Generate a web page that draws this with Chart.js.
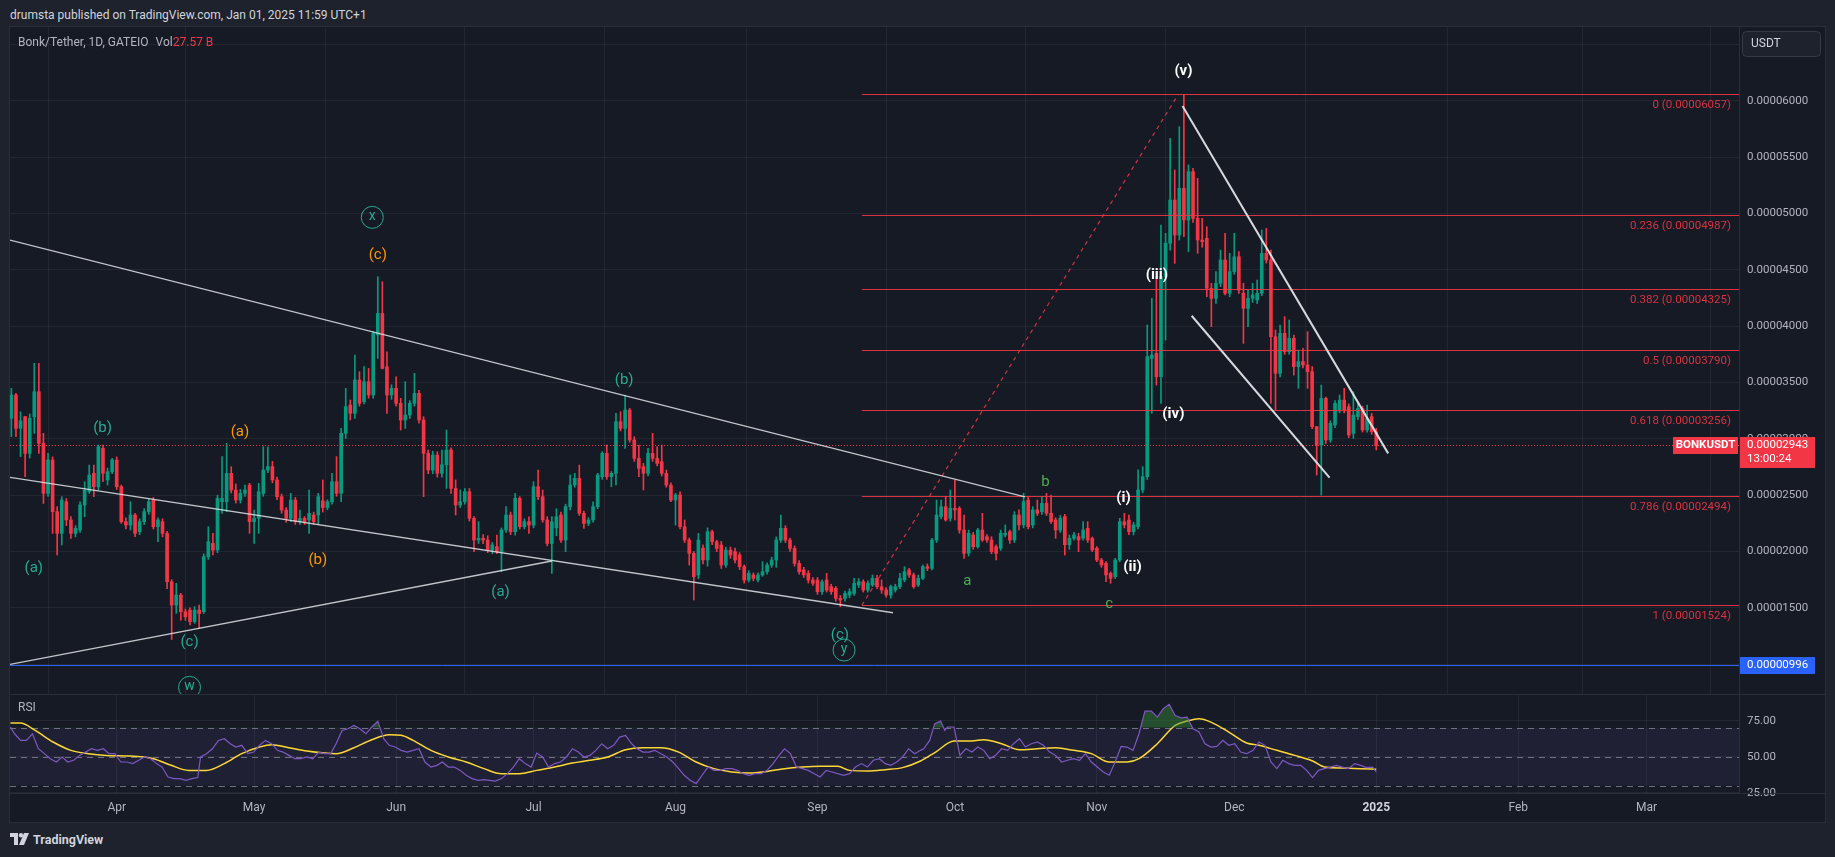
<!DOCTYPE html>
<html>
<head>
<meta charset="utf-8">
<title>BONKUSDT 1D</title>
<script src="https://cdn.jsdelivr.net/npm/chart.js@4.4.1/dist/chart.umd.min.js"></script>
<style>
  html, body { margin: 0; padding: 0; }
  body { width: 1835px; height: 857px; background: #1e222d; position: relative; overflow: hidden; font-family: Roboto, sans-serif; }
  #hdr { position: absolute; left: 10px; top: 7px; font-size: 12px; line-height: 16px; color: #d1d4dc; white-space: nowrap; }
  .wrap { position: absolute; left: 10px; width: 1815px; }
  #mainWrap { top: 27px; height: 667px; }
  #rsiWrap { top: 694px; height: 128px; }
  .sep { position: absolute; background: #2a2e39; }
  #frame { position: absolute; left: 9px; top: 26px; width: 1817px; height: 797px; border: 1px solid #2a2e39; box-sizing: border-box; pointer-events: none; }
  #logo { position: absolute; left: 10px; top: 831px; height: 16px; display: flex; align-items: center; gap: 4px; color: #d1d4dc; font-weight: bold; font-size: 12.5px; }
</style>
</head>
<body>
<div id="hdr">drumsta published on TradingView.com, Jan 01, 2025 11:59 UTC+1</div>
<div id="mainWrap" class="wrap"><canvas id="mainCanvas"></canvas></div>
<div id="rsiWrap" class="wrap"><canvas id="rsiCanvas"></canvas></div>
<div class="sep" style="left:10px; top:694px; width:1815px; height:1px;"></div>
<div class="sep" style="left:10px; top:793px; width:1815px; height:1px;"></div>
<div id="frame"></div>
<div id="logo">
  <svg width="19" height="13" viewBox="0 0 19 13"><path d="M0 0h8v12H4V4H0z" fill="#d1d4dc"/><circle cx="11" cy="2.2" r="2.2" fill="#d1d4dc"/><path d="M14 0h5l-5 12H9z" fill="#d1d4dc"/></svg>
  <span>TradingView</span>
</div>

<script>
// prices are in millionths of USDT (29.43 -> 0.00002943)
// days are counted from Apr 1 2024, first candle is Mar 9 2024
const firstDay = -23;

const open = [
  31.82, 33.89, 30.93, 31.97, 28.71, 31.97, 34.18, 29.60, 25.16, 28.12,
  23.54, 21.61, 24.42, 22.80, 21.61, 21.91, 24.13, 25.31, 26.94, 25.75,
  29.16, 26.35, 27.08, 28.12, 25.75, 22.65, 22.35, 23.24, 21.76, 22.65,
  23.54, 24.57, 22.20, 22.65, 21.61, 17.32, 15.25, 16.14, 14.66, 14.81,
  13.78, 14.81, 14.66, 19.54, 20.72, 20.13, 24.42, 24.42, 26.94, 25.46,
  24.57, 25.16, 25.90, 22.65, 22.94, 25.16, 27.23, 27.53, 26.35, 24.87,
  23.68, 22.94, 24.57, 22.65, 22.94, 22.80, 23.24, 23.24, 24.50, 23.90,
  24.42, 26.20, 25.16, 30.49, 33.00, 32.26, 35.22, 33.30, 35.07, 33.89,
  39.21, 41.13, 36.40, 33.89, 34.48, 33.15, 31.67, 32.11, 33.15, 34.04,
  31.67, 28.71, 27.23, 28.56, 26.94, 27.70, 29.01, 25.60, 24.13, 24.42,
  25.31, 22.94, 21.02, 21.17, 21.02, 20.13, 20.43, 19.99, 21.91, 23.24,
  21.76, 24.72, 22.20, 22.65, 22.35, 25.75, 24.87, 22.80, 20.72, 22.10,
  23.24, 21.02, 23.98, 25.90, 26.49, 23.39, 22.50, 22.80, 23.98, 26.64,
  28.71, 26.64, 26.94, 31.52, 30.93, 32.56, 29.90, 28.27, 27.53, 26.94,
  28.71, 28.27, 27.97, 26.94, 25.90, 24.57, 25.02, 22.20, 21.02, 19.84,
  17.92, 20.30, 19.25, 21.76, 20.87, 20.58, 18.80, 20.13, 19.99, 19.69,
  18.65, 17.47, 17.92, 17.47, 17.92, 18.21, 18.80, 19.25, 21.02, 22.06,
  21.02, 20.28, 18.95, 18.36, 18.06, 17.47, 17.47, 16.44, 17.47, 16.88,
  16.73, 15.84, 15.84, 16.14, 16.29, 17.03, 17.32, 16.58, 17.03, 17.62,
  16.88, 16.59, 16.14, 16.59, 16.88, 17.48, 18.36, 17.92, 17.03, 17.62,
  18.66, 18.51, 21.02, 23.10, 23.98, 22.95, 23.83, 23.83, 21.91, 19.84,
  21.47, 20.43, 21.91, 21.32, 21.02, 20.43, 20.29, 21.47, 21.76, 21.02,
  23.24, 22.36, 24.57, 22.36, 23.69, 23.54, 24.28, 23.39, 22.80, 21.91,
  23.10, 20.60, 21.17, 21.32, 21.17, 22.06, 21.17, 20.29, 19.25, 18.96,
  18.07, 17.77, 19.25, 22.65, 22.80, 21.76, 22.21, 25.46, 26.64, 37.14,
  37.58, 35.51, 44.39, 47.35, 51.19, 48.08, 52.23, 49.42, 53.70, 49.56,
  47.64, 47.79, 43.35, 42.46, 43.80, 45.87, 42.91, 44.83, 46.16, 42.91,
  41.58, 42.46, 42.32, 42.91, 46.46, 45.87, 39.06, 35.81, 39.36, 37.73,
  38.92, 36.40, 36.85, 36.55, 35.96, 31.08, 29.45, 33.59, 29.90, 31.23,
  32.56, 33.44, 32.85, 30.49, 31.97, 32.70, 30.78, 31.97, 30.63
];
const high = [
  34.48, 34.04, 32.40, 32.00, 32.20, 36.70, 36.70, 30.49, 28.71, 28.40,
  23.98, 24.87, 24.70, 23.10, 22.30, 24.40, 26.20, 27.67, 27.67, 29.45,
  29.45, 27.40, 28.27, 28.40, 25.90, 23.00, 24.42, 23.39, 22.90, 23.80,
  24.72, 24.80, 23.00, 22.90, 21.80, 17.50, 17.18, 16.30, 14.90, 15.00,
  15.11, 15.25, 19.80, 22.20, 21.61, 25.00, 28.42, 29.60, 27.53, 26.00,
  25.50, 25.90, 26.05, 23.68, 26.05, 29.30, 29.30, 28.00, 26.60, 25.10,
  23.90, 25.16, 24.80, 23.68, 23.10, 25.46, 23.50, 25.16, 26.35, 24.60,
  26.94, 28.42, 30.93, 34.48, 33.44, 37.44, 35.96, 36.40, 36.25, 39.51,
  44.39, 43.94, 37.73, 34.80, 35.51, 33.59, 35.07, 33.40, 35.81, 34.30,
  31.97, 29.00, 28.90, 28.86, 29.00, 30.78, 29.20, 26.35, 25.46, 25.60,
  25.60, 23.10, 22.65, 21.50, 21.40, 20.80, 21.46, 22.10, 23.98, 23.50,
  25.16, 24.87, 22.90, 23.09, 26.20, 27.23, 25.46, 23.10, 23.09, 23.80,
  23.50, 24.20, 26.79, 26.94, 27.67, 23.60, 23.00, 24.42, 26.94, 28.86,
  29.45, 27.10, 32.26, 32.41, 33.89, 32.71, 30.19, 29.45, 27.82, 29.16,
  30.49, 29.30, 29.45, 27.23, 26.10, 25.16, 25.30, 22.80, 21.20, 20.00,
  21.61, 20.60, 22.10, 21.90, 21.00, 20.90, 20.40, 20.40, 20.30, 19.90,
  18.80, 18.30, 18.10, 18.10, 19.10, 19.00, 19.50, 21.30, 23.24, 22.30,
  21.20, 20.50, 19.20, 18.60, 18.30, 17.70, 17.70, 17.50, 18.06, 17.10,
  16.90, 16.10, 16.50, 16.70, 17.62, 17.60, 17.50, 17.40, 17.92, 17.90,
  17.48, 16.80, 17.03, 17.10, 18.07, 18.66, 18.51, 18.10, 17.92, 18.81,
  18.90, 21.17, 24.57, 24.57, 24.87, 25.46, 26.35, 23.98, 23.24, 21.91,
  21.70, 22.06, 23.39, 21.50, 21.32, 20.60, 21.91, 22.36, 21.91, 23.54,
  23.69, 25.17, 24.87, 23.98, 24.57, 24.87, 25.17, 25.02, 23.00, 23.20,
  23.30, 21.47, 21.70, 21.62, 22.65, 22.65, 21.30, 20.43, 19.40, 19.10,
  18.20, 19.40, 22.95, 23.39, 23.24, 22.60, 27.24, 27.53, 40.10, 42.46,
  44.39, 48.97, 48.23, 56.66, 53.85, 57.70, 60.57, 54.30, 54.00, 53.11,
  49.56, 48.82, 43.80, 44.83, 46.75, 48.23, 46.46, 48.23, 46.61, 43.80,
  43.20, 43.80, 44.09, 48.53, 48.67, 46.75, 39.66, 40.10, 40.84, 40.54,
  39.20, 37.88, 38.03, 39.51, 36.40, 31.10, 34.77, 33.70, 31.60, 33.40,
  33.89, 34.48, 33.10, 34.18, 33.15, 32.90, 33.00, 32.26, 30.93
];
const low = [
  30.19, 30.19, 28.42, 26.64, 28.30, 30.49, 28.71, 24.27, 24.90, 21.61,
  19.69, 20.58, 22.30, 21.17, 21.30, 21.70, 23.09, 25.16, 24.87, 25.46,
  26.20, 25.90, 26.90, 25.50, 22.50, 22.00, 21.91, 21.32, 21.50, 22.40,
  23.30, 22.00, 20.87, 21.30, 16.70, 12.20, 14.52, 13.92, 13.90, 13.50,
  13.63, 13.18, 14.50, 19.30, 19.69, 19.90, 23.39, 23.54, 25.20, 24.30,
  24.30, 24.90, 21.61, 20.72, 21.61, 24.90, 27.00, 26.10, 24.60, 23.40,
  22.60, 22.65, 22.40, 22.40, 22.40, 21.61, 22.40, 22.40, 23.50, 23.70,
  24.20, 24.90, 24.42, 30.04, 31.67, 31.82, 32.90, 33.10, 33.60, 33.60,
  37.14, 36.20, 32.26, 33.50, 32.90, 30.78, 30.93, 31.80, 32.90, 31.40,
  24.87, 26.90, 26.90, 26.60, 26.60, 25.60, 25.16, 23.24, 23.90, 24.20,
  22.70, 19.99, 20.72, 20.70, 19.90, 19.80, 19.80, 18.21, 21.70, 21.50,
  21.46, 22.00, 22.00, 21.61, 22.10, 24.60, 22.60, 20.50, 18.06, 21.40,
  20.80, 19.99, 23.70, 25.70, 23.20, 22.06, 22.30, 22.60, 23.80, 26.40,
  26.40, 25.75, 25.90, 30.70, 29.16, 29.70, 28.00, 26.64, 25.46, 26.70,
  28.00, 27.60, 26.70, 25.70, 24.42, 22.35, 22.00, 20.80, 18.80, 15.70,
  17.60, 18.90, 18.70, 20.60, 20.00, 18.50, 18.60, 19.40, 19.00, 18.40,
  17.20, 17.30, 17.40, 17.30, 17.80, 18.00, 18.60, 18.60, 20.80, 20.80,
  20.00, 18.70, 18.00, 17.70, 17.20, 17.00, 16.20, 16.20, 16.40, 16.20,
  15.60, 15.11, 15.60, 15.90, 16.10, 16.80, 16.40, 16.40, 16.90, 16.70,
  16.29, 15.95, 15.85, 16.40, 16.70, 17.30, 17.70, 16.74, 16.90, 17.50,
  18.30, 18.36, 20.80, 22.90, 22.70, 22.70, 22.80, 21.62, 19.40, 19.60,
  20.20, 20.30, 20.90, 20.80, 19.80, 19.25, 20.10, 21.30, 20.73, 20.80,
  21.91, 22.10, 22.00, 22.10, 23.20, 23.30, 23.20, 22.50, 21.17, 21.70,
  19.69, 20.20, 21.00, 19.99, 21.00, 20.80, 19.99, 19.10, 18.60, 17.33,
  17.18, 17.60, 19.10, 22.10, 21.50, 21.47, 22.00, 25.20, 26.40, 32.26,
  34.77, 33.15, 38.77, 46.75, 45.57, 47.64, 47.94, 46.61, 49.20, 46.46,
  47.00, 42.61, 39.95, 42.02, 43.50, 42.76, 42.60, 44.60, 42.90, 38.47,
  39.95, 42.10, 42.00, 42.70, 45.60, 33.15, 32.56, 35.50, 37.50, 37.50,
  35.66, 34.48, 36.30, 34.48, 30.90, 26.79, 25.01, 29.60, 29.70, 31.00,
  32.30, 32.30, 30.10, 30.04, 31.70, 30.60, 30.60, 30.40, 29.01
];
const close = [
  33.89, 30.93, 31.60, 28.71, 31.82, 34.18, 29.60, 25.16, 28.12, 23.54,
  21.61, 24.57, 22.80, 21.61, 22.06, 24.13, 25.46, 26.79, 25.75, 29.30,
  26.94, 27.08, 28.12, 25.75, 22.65, 22.35, 23.24, 21.61, 22.65, 23.54,
  24.42, 22.20, 22.80, 21.61, 17.32, 15.25, 16.14, 14.66, 14.22, 13.78,
  14.81, 14.50, 19.54, 20.87, 20.13, 24.72, 24.72, 26.94, 25.46, 24.57,
  25.16, 25.46, 22.65, 22.94, 25.31, 27.23, 27.53, 26.35, 24.87, 23.68,
  22.94, 24.57, 22.65, 22.94, 22.65, 23.39, 22.65, 24.87, 23.90, 24.42,
  26.20, 25.16, 30.49, 32.85, 32.26, 35.22, 33.15, 35.07, 33.89, 39.36,
  41.13, 36.25, 33.89, 34.48, 33.15, 31.67, 32.11, 33.15, 34.04, 31.67,
  28.71, 27.23, 28.56, 26.94, 27.70, 29.01, 25.60, 24.13, 24.42, 25.31,
  22.94, 21.02, 21.17, 21.02, 20.13, 20.58, 19.99, 21.91, 23.24, 21.76,
  24.72, 22.20, 22.65, 22.35, 25.75, 24.87, 22.80, 20.72, 22.65, 23.09,
  21.02, 23.98, 25.90, 26.49, 23.39, 22.50, 22.80, 23.98, 26.79, 28.71,
  26.64, 26.94, 31.52, 30.93, 32.56, 29.90, 28.27, 27.38, 26.94, 28.71,
  28.27, 27.82, 26.94, 25.90, 24.57, 25.02, 22.20, 21.02, 19.84, 17.77,
  21.02, 19.25, 21.76, 20.87, 20.28, 18.80, 20.13, 19.69, 19.25, 18.65,
  17.47, 18.06, 17.62, 17.92, 18.21, 18.80, 19.25, 21.02, 22.06, 21.02,
  20.28, 18.95, 18.21, 17.92, 17.47, 17.18, 16.44, 17.32, 16.58, 16.44,
  15.84, 15.70, 16.29, 16.44, 17.18, 17.32, 16.58, 17.18, 17.62, 16.88,
  16.59, 16.14, 16.88, 16.88, 17.62, 18.21, 17.92, 16.88, 17.62, 18.66,
  18.51, 21.02, 23.24, 23.98, 22.80, 23.83, 23.69, 21.91, 19.84, 21.62,
  20.43, 21.91, 21.02, 21.02, 19.99, 19.84, 21.62, 21.62, 21.02, 23.24,
  22.36, 24.43, 22.21, 23.69, 23.39, 24.28, 23.39, 22.65, 21.91, 22.95,
  20.60, 21.17, 21.47, 21.02, 21.91, 21.02, 20.14, 19.25, 18.81, 17.92,
  17.62, 19.25, 22.65, 22.36, 21.76, 22.36, 25.46, 26.64, 37.29, 37.44,
  35.51, 44.39, 47.35, 51.19, 48.08, 52.23, 49.42, 53.70, 49.56, 47.64,
  47.49, 43.35, 42.46, 43.80, 45.87, 42.91, 44.83, 46.16, 43.20, 41.58,
  42.46, 42.76, 42.91, 46.46, 45.87, 39.06, 35.81, 39.36, 37.73, 38.92,
  36.40, 36.85, 36.55, 35.96, 31.08, 29.45, 33.59, 29.90, 31.37, 33.15,
  33.44, 32.56, 30.34, 32.11, 32.70, 30.78, 31.82, 30.63, 29.43
];

const rsiDay = [
  -23.2, -22.3, -21.0, -19.7, -18.4, -17.1, -15.8, -14.5, -13.2, -11.9,
  -10.7, -9.4, -8.1, -6.8, -5.5, -4.2, -2.9, -1.7, -0.4, 0.9,
  2.2, 3.5, 4.8, 6.1, 7.4, 8.7, 9.9, 11.2, 12.5, 13.8,
  15.1, 16.4, 17.7, 18.3, 19.6, 20.9, 22.2, 23.5, 24.8, 26.0,
  27.3, 28.6, 29.9, 31.2, 32.5, 33.8, 35.1, 36.3, 37.6, 38.9,
  40.2, 41.5, 42.8, 44.1, 45.4, 46.7, 47.9, 49.2, 50.5, 51.8,
  53.1, 54.4, 55.7, 57.0, 58.3, 59.5, 60.8, 62.1, 63.4, 64.7,
  66.0, 67.3, 68.6, 69.9, 71.1, 72.4, 73.7, 75.0, 76.3, 77.6,
  78.9, 80.2, 81.4, 82.7, 84.0, 85.3, 86.6, 87.9, 89.2, 90.5,
  91.7, 93.0, 94.3, 95.6, 96.9, 98.2, 99.5, 100.8, 102.0, 103.3,
  104.6, 105.9, 107.2, 108.5, 109.8, 111.1, 112.4, 113.6, 114.9, 116.2,
  117.5, 118.8, 120.1, 121.4, 122.7, 123.9, 125.2, 126.5, 127.8, 129.1,
  130.4, 131.7, 133.0, 134.3, 135.5, 136.8, 138.1, 139.4, 140.7, 142.0,
  143.3, 144.6, 145.8, 147.1, 148.4, 149.7, 151.0, 152.3, 153.6, 154.9,
  156.2, 157.4, 158.7, 160.0, 161.3, 162.6, 163.9, 165.2, 166.5, 167.8,
  169.0, 170.3, 171.6, 172.9, 174.2, 175.5,
  176.2, 177.5, 178.6, 179.9, 180.8, 181.4, 182.8, 184.1, 185.4, 186.7,
  188.0, 189.3, 190.6, 191.9, 193.2, 194.5, 195.8, 197.1, 198.4, 199.7,
  201.0, 202.3, 203.7, 205.0, 206.3, 207.6, 208.9, 210.2, 211.5, 212.8,
  214.1, 215.4, 216.7, 218.0, 219.3, 220.6, 221.9, 223.2, 224.5, 225.9,
  227.2, 228.5, 229.8, 231.1, 232.4, 233.7, 235.0, 236.3, 237.6, 238.9,
  240.2, 241.5, 242.8, 244.1, 245.4, 246.7, 248.1, 249.4, 250.7, 252.0,
  253.3, 254.6, 255.9, 257.2, 258.5, 259.8, 261.1, 262.4, 263.7, 265.0,
  266.3, 267.6, 268.9, 270.3, 271.6, 272.9, 274.2, 275.0
];
const rsiValue = [
  70.6, 65.9, 61.3, 61.3, 65.9, 55.5, 52.1, 48.6, 46.3, 49.8,
  46.3, 47.5, 50.9, 53.2, 55.5, 54.4, 55.5, 52.1, 52.1, 46.3,
  46.3, 45.2, 47.5, 49.8, 48.6, 45.2, 42.8, 35.9, 34.8, 34.8,
  33.6, 34.8, 35.5, 49.8, 52.1, 55.5, 61.3, 62.5, 59.0, 56.7,
  57.9, 52.1, 53.2, 57.9, 61.3, 59.0, 54.4, 53.2, 50.9, 48.6,
  48.6, 49.8, 48.6, 53.2, 52.1, 52.1, 59.0, 68.2, 69.4, 71.7,
  69.4, 65.9, 70.6, 74.5, 62.5, 57.9, 56.7, 54.4, 53.2, 54.4,
  55.5, 46.3, 42.8, 44.0, 46.3, 42.8, 42.8, 40.5, 37.1, 34.8,
  33.6, 34.1, 33.6, 33.1, 34.8, 38.2, 42.8, 48.6, 45.2, 42.8,
  52.5, 49.8, 42.8, 45.2, 46.3, 49.8, 55.5, 53.2, 49.8, 50.9,
  54.4, 59.0, 55.5, 57.9, 63.6, 64.8, 59.0, 55.5, 53.2, 53.2,
  54.4, 52.1, 49.8, 46.3, 41.7, 37.1, 33.6, 31.3, 37.1, 42.8,
  40.5, 40.5, 41.7, 41.7, 40.5, 38.2, 37.1, 38.2, 38.2, 40.5,
  45.2, 50.9, 55.5, 52.1, 42.8, 41.7, 40.5, 38.2, 35.9, 40.5,
  39.4, 38.2, 37.1, 38.2, 42.8, 45.2, 42.8, 47.5, 48.6, 45.2,
  44.0, 46.3, 49.8, 55.5, 52.1, 54.4,
  55.5, 61.3, 72.9, 74.7, 68.2, 70.6, 70.6, 50.9, 55.5, 53.2,
  56.7, 54.4, 48.6, 50.9, 55.5, 54.4, 59.0, 62.5, 56.7, 59.0,
  60.2, 57.9, 53.2, 50.9, 46.3, 47.5, 48.6, 47.5, 52.1, 46.3,
  42.8, 39.4, 37.1, 46.3, 57.2, 56.7, 54.4, 65.9, 81.6, 81.6,
  77.5, 83.3, 86.3, 78.6, 77.0, 77.5, 69.4, 67.1, 59.0, 56.7,
  57.2, 61.3, 57.9, 59.0, 53.2, 52.1, 54.4, 60.2, 57.9, 46.3,
  41.7, 47.5, 45.2, 44.0, 44.0, 40.5, 35.5, 40.5, 41.7, 42.8,
  44.0, 42.8, 41.7, 45.2, 44.0, 42.4, 42.8, 39.4
];
const maDay = [
  -23.2, -21.0, -17.8, -13.9, -10.0, -6.2, -2.3, 2.9, 8.0, 11.9,
  15.7, 19.6, 23.5, 27.3, 31.2, 33.8, 37.6, 41.5, 45.4, 47.9,
  51.8, 55.7, 59.5, 62.1, 64.7, 68.6, 72.4, 76.3, 80.2, 84.0,
  87.9, 91.7, 95.6, 99.5, 103.3, 107.2, 111.1, 114.9, 118.8, 122.7,
  126.5, 130.4, 134.3, 138.1, 142.0, 145.8, 149.7, 153.6, 157.4, 160.0,
  163.9, 167.8, 171.6, 175.5,
  178.8, 182.8, 186.7, 189.3, 193.2, 197.1, 201.0, 205.0, 208.9, 212.8,
  216.7, 220.6, 223.2, 227.2, 231.1, 233.7, 236.3, 238.9, 242.8, 246.7,
  249.4, 253.3, 257.2, 261.1, 263.7, 267.6, 271.6, 275.0
];
const maValue = [
  73.3, 73.3, 68.2, 60.2, 54.4, 52.1, 50.9, 50.5, 48.6, 44.0,
  40.5, 40.5, 45.2, 52.1, 56.7, 58.3, 56.2, 53.9, 52.5, 52.1,
  56.2, 61.8, 65.2, 64.8, 61.3, 54.4, 49.8, 46.3, 41.7, 38.2,
  38.2, 40.5, 42.8, 45.6, 47.5, 49.8, 54.8, 56.2, 56.2, 53.2,
  46.3, 41.7, 39.4, 38.7, 39.8, 41.7, 42.8, 43.3, 43.3, 40.5,
  40.1, 41.0, 42.4, 47.0,
  53.2, 60.9, 60.9, 61.8, 59.0, 54.8, 55.5, 56.2, 54.4, 52.1,
  46.3, 46.3, 48.6, 59.0, 71.7, 74.7, 76.3, 74.0, 67.1, 59.5,
  57.9, 54.4, 50.9, 47.0, 42.8, 42.1, 41.7, 41.2
];

const monthDays = [0, 30, 61, 91, 122, 153, 183, 214, 244, 275, 306, 334];
const monthLabels = ['Apr', 'May', 'Jun', 'Jul', 'Aug', 'Sep', 'Oct', 'Nov', 'Dec', '2025', 'Feb', 'Mar'];
const yearStartDay = 275;
const priceTicks = [10, 15, 20, 25, 30, 35, 40, 45, 50, 55, 60, 65];
const rsiTicks = [25, 50, 75];
const rsiUpper = 70;
const rsiLower = 30;

// fibonacci retracement of the Sep -> Nov impulse
const fibLevels = [0, 0.236, 0.382, 0.5, 0.618, 0.786, 1];
const fibPrices = [60.57, 49.87, 43.25, 37.90, 32.56, 24.94, 15.24];
const fibStartDay = 162.7;
const impulseTopDay = 231.8;
const supportPrice = 9.96;

// drawn trend lines, [day, price] end points
const trendFrom = [[-23.3, 47.64], [-23.3, 26.58], [-23.3, 9.99], [232.7, 59.53], [234.7, 40.92]];
const trendTo = [[198.3, 24.86], [169.5, 14.57], [95.0, 19.16], [277.6, 28.71], [264.8, 26.55]];

// elliott wave labels
const waveText = ['(a)', '(b)', '(c)', 'w', '(a)', '(b)', '(c)', 'x', '(a)', '(b)', '(c)', 'y',
  'a', 'b', 'c', '(i)', '(ii)', '(iii)', '(iv)', '(v)'];
const waveDay = [-18.1, -3.1, 15.9, 15.9, 26.9, 43.9, 57.0, 55.8, 83.8, 110.8, 157.9, 158.8,
  185.7, 202.8, 216.7, 219.8, 221.8, 227.1, 230.7, 232.9];
const wavePrice = [18.49, 30.93, 11.97, 7.95, 30.58, 19.25, 46.31, 49.65, 16.43, 35.16, 12.59, 11.26,
  17.38, 26.14, 15.34, 24.72, 18.65, 44.51, 32.17, 62.57];
const waveDegree = ['minor', 'minor', 'minor', 'circle', 'sub', 'sub', 'sub', 'circle', 'minor', 'minor', 'minor', 'circle',
  'minute', 'minute', 'minute', 'micro', 'micro', 'micro', 'micro', 'micro'];

const PANE_BG = '#161a25';
const GRID = 'rgba(255,255,255,0.055)';
const UP = '#089981';
const DOWN = '#f23645';
const AXIS_TXT = '#b2b5be';
const xMin = -23.3;
const xMax = 354.2;

const waveStyle = {
  minor: { color: '#22ab94', font: '15px Roboto' },
  sub: { color: '#ff9800', font: '15px Roboto' },
  circle: { color: '#22ab94', font: '14px Roboto', ring: true },
  minute: { color: '#4caf50', font: '15px Roboto' },
  micro: { color: '#ffffff', font: 'bold 15px Roboto' }
};

const candleColors = close.map((c, i) => c >= open[i] ? UP : DOWN);
const crisp = v => Math.round(v) + 0.5;

const mainOverlay = {
  id: 'mainOverlay',
  beforeDraw(chart) {
    const c = chart.ctx;
    c.save();
    c.fillStyle = PANE_BG;
    c.fillRect(0, 0, chart.width, chart.height);
    c.restore();
  },
  afterDatasetsDraw(chart) {
    const c = chart.ctx, a = chart.chartArea;
    const X = d => chart.scales.x.getPixelForValue(d);
    const Y = p => chart.scales.y.getPixelForValue(p);
    const last = close[close.length - 1];
    c.save();
    c.beginPath();
    c.rect(a.left, a.top, a.right - a.left, a.bottom - a.top);
    c.clip();
    c.lineWidth = 1;

    // horizontal support
    c.strokeStyle = '#2962ff';
    c.beginPath(); c.moveTo(a.left, crisp(Y(supportPrice))); c.lineTo(a.right, crisp(Y(supportPrice))); c.stroke();

    // last price
    c.setLineDash([1, 2]);
    c.strokeStyle = DOWN;
    c.beginPath(); c.moveTo(a.left, crisp(Y(last))); c.lineTo(a.right, crisp(Y(last))); c.stroke();
    c.setLineDash([]);

    // fib levels
    c.font = '11.5px Roboto';
    c.textAlign = 'right';
    c.textBaseline = 'middle';
    fibPrices.forEach((p, i) => {
      const y = crisp(Y(p));
      c.strokeStyle = 'rgba(242,54,69,0.9)';
      c.beginPath(); c.moveTo(X(fibStartDay), y); c.lineTo(a.right, y); c.stroke();
      c.fillStyle = 'rgba(242,54,69,0.88)';
      c.fillText(fibLevels[i] + ' (' + (p / 1e6).toFixed(8) + ')', a.right - 8, y + 11);
    });

    // fib trend (dashed)
    c.setLineDash([4, 4]);
    c.strokeStyle = 'rgba(242,54,69,0.85)';
    c.lineWidth = 1.2;
    c.beginPath(); c.moveTo(X(fibStartDay), Y(fibPrices[6])); c.lineTo(X(impulseTopDay), Y(fibPrices[0])); c.stroke();
    c.setLineDash([]);

    // trend lines
    trendFrom.forEach((f, i) => {
      const t = trendTo[i];
      c.strokeStyle = i < 3 ? 'rgba(225,227,232,0.85)' : 'rgba(230,232,236,0.92)';
      c.lineWidth = i < 3 ? 1.3 : 2;
      c.beginPath(); c.moveTo(X(f[0]), Y(f[1])); c.lineTo(X(t[0]), Y(t[1])); c.stroke();
    });

    // wave labels
    c.textAlign = 'center';
    c.textBaseline = 'middle';
    waveText.forEach((txt, i) => {
      const st = waveStyle[waveDegree[i]];
      const x = X(waveDay[i]), y = Y(wavePrice[i]);
      if (st.ring) {
        c.strokeStyle = st.color;
        c.lineWidth = 1;
        c.beginPath(); c.arc(x, y, 11, 0, Math.PI * 2); c.stroke();
      }
      c.fillStyle = st.color;
      c.font = st.font;
      c.fillText(txt, x, y + (st.ring ? -1 : 0));
    });
    c.restore();
  },
  afterDraw(chart) {
    const c = chart.ctx, a = chart.chartArea, ys = chart.scales.y;
    const last = close[close.length - 1];
    const yl = Math.round(ys.getPixelForValue(last));
    const yb = Math.round(ys.getPixelForValue(supportPrice));
    c.save();
    c.textBaseline = 'middle';

    // last price tags
    c.fillStyle = DOWN;
    c.fillRect(a.right - 66, yl - 8, 65, 17);
    c.fillRect(a.right + 1, yl - 8, 75, 31);
    c.fillStyle = '#ffffff';
    c.font = 'bold 11.5px Roboto';
    c.textAlign = 'center';
    c.fillText('BONKUSDT', a.right - 33.5, yl + 0.5);
    c.textAlign = 'left';
    c.font = '11.5px Roboto';
    c.fillText((last / 1e6).toFixed(8), a.right + 8, yl + 0.5);
    c.fillText('13:00:24', a.right + 8, yl + 14.5);

    // support tag
    c.fillStyle = '#2962ff';
    c.fillRect(a.right + 1, yb - 8, 75, 17);
    c.fillStyle = '#ffffff';
    c.fillText((supportPrice / 1e6).toFixed(8), a.right + 8, yb + 0.5);

    // currency button
    c.fillStyle = '#1e222d';
    c.strokeStyle = '#363a45';
    c.lineWidth = 1;
    c.beginPath();
    c.roundRect(a.right + 3.5, 4.5, 78, 25, 4);
    c.fill(); c.stroke();
    c.fillStyle = '#d1d4dc';
    c.font = '12px Roboto';
    c.fillText('USDT', a.right + 12, 17);

    // legend
    c.font = '12px Roboto';
    c.fillStyle = AXIS_TXT;
    const t1 = 'Bonk/Tether, 1D, GATEIO';
    c.fillText(t1, 8, 15.5);
    let x = 8 + c.measureText(t1).width + 7;
    c.fillText('Vol', x, 15.5);
    x += c.measureText('Vol').width;
    c.fillStyle = DOWN;
    c.fillText('27.57 B', x, 15.5);
    c.restore();
  }
};

const rsiOverlay = {
  id: 'rsiOverlay',
  beforeDraw(chart) {
    const c = chart.ctx;
    c.save();
    c.fillStyle = PANE_BG;
    c.fillRect(0, 0, chart.width, chart.height);
    c.restore();
  },
  beforeDatasetsDraw(chart) {
    const c = chart.ctx, a = chart.chartArea, ys = chart.scales.y;
    const y70 = ys.getPixelForValue(rsiUpper), y30 = ys.getPixelForValue(rsiLower);
    c.save();
    c.fillStyle = 'rgba(126,87,194,0.1)';
    c.fillRect(a.left, y70, a.right - a.left, y30 - y70);
    c.strokeStyle = 'rgba(120,123,134,0.9)';
    c.lineWidth = 1;
    c.setLineDash([6, 5]);
    [rsiUpper, 50, rsiLower].forEach(v => {
      const y = crisp(ys.getPixelForValue(v));
      c.beginPath(); c.moveTo(a.left, y); c.lineTo(a.right, y); c.stroke();
    });
    c.restore();
  },
  afterDraw(chart) {
    const c = chart.ctx;
    c.save();
    c.font = '12px Roboto';
    c.fillStyle = AXIS_TXT;
    c.textBaseline = 'middle';
    c.fillText('RSI', 8, 14);
    c.restore();
  }
};

const monthTicks = s => { s.ticks = monthDays.map(v => ({ value: v })); };

new Chart(document.getElementById('mainCanvas'), {
  type: 'bar',
  data: {
    datasets: [
      {
        label: 'wick',
        data: low.map((l, i) => ({ x: firstDay + i, y: [l, high[i]] })),
        backgroundColor: candleColors,
        barThickness: 1,
        grouped: false,
        order: 2
      },
      {
        label: 'body',
        data: open.map((o, i) => ({ x: firstDay + i, y: [o, close[i]] })),
        backgroundColor: candleColors,
        barThickness: 3,
        minBarLength: 1,
        grouped: false,
        order: 1
      }
    ]
  },
  options: {
    responsive: true,
    maintainAspectRatio: false,
    animation: false,
    events: [],
    layout: { padding: 0, autoPadding: false },
    plugins: { legend: { display: false }, tooltip: { enabled: false } },
    scales: {
      x: {
        type: 'linear', min: xMin, max: xMax, offset: false,
        afterBuildTicks: monthTicks,
        ticks: { display: false },
        grid: { color: GRID, drawTicks: false },
        border: { display: false },
        afterFit: s => { s.height = 0; s.paddingLeft = 0; s.paddingRight = 0; }
      },
      y: {
        position: 'right', min: 7.36, max: 66.54,
        afterBuildTicks: s => { s.ticks = priceTicks.map(v => ({ value: v })); },
        ticks: {
          callback: v => (v / 1e6).toFixed(8),
          color: AXIS_TXT, font: { family: 'Roboto', size: 11.5 }, padding: 8
        },
        grid: { color: GRID, drawTicks: false },
        border: { color: '#2a2e39' },
        afterFit: s => { s.width = 86; s.paddingTop = 0; s.paddingBottom = 0; }
      }
    }
  },
  plugins: [mainOverlay]
});

new Chart(document.getElementById('rsiCanvas'), {
  type: 'line',
  data: {
    datasets: [
      {
        label: 'RSI',
        data: rsiDay.map((d, i) => ({ x: d, y: rsiValue[i] })),
        borderColor: '#7e57c2',
        borderWidth: 1.2,
        pointRadius: 0,
        fill: { value: rsiUpper, above: 'rgba(56,142,60,0.45)', below: 'rgba(0,0,0,0)' }
      },
      {
        label: 'RSI-based MA',
        data: maDay.map((d, i) => ({ x: d, y: maValue[i] })),
        borderColor: '#fdd835',
        borderWidth: 1.5,
        pointRadius: 0,
        cubicInterpolationMode: 'monotone',
        fill: false
      }
    ]
  },
  options: {
    responsive: true,
    maintainAspectRatio: false,
    animation: false,
    events: [],
    layout: { padding: 0, autoPadding: false },
    plugins: { legend: { display: false }, tooltip: { enabled: false } },
    scales: {
      x: {
        type: 'linear', min: xMin, max: xMax, offset: false,
        afterBuildTicks: monthTicks,
        ticks: {
          callback: v => monthLabels[monthDays.indexOf(v)],
          color: ctx => ctx.tick && ctx.tick.value === yearStartDay ? '#d1d4dc' : AXIS_TXT,
          font: ctx => ({ family: 'Roboto', size: 12, weight: ctx.tick && ctx.tick.value === yearStartDay ? 'bold' : 'normal' }),
          maxRotation: 0, autoSkip: false, padding: 8
        },
        grid: { color: GRID, drawTicks: false },
        border: { display: false },
        afterFit: s => { s.height = 29; s.paddingLeft = 0; s.paddingRight = 0; }
      },
      y: {
        position: 'right', min: 24.8, max: 93.5,
        afterBuildTicks: s => { s.ticks = rsiTicks.map(v => ({ value: v })); },
        ticks: {
          callback: v => v.toFixed(2),
          color: AXIS_TXT, font: { family: 'Roboto', size: 11.5 }, padding: 8
        },
        grid: { color: GRID, drawTicks: false },
        border: { color: '#2a2e39' },
        afterFit: s => { s.width = 86; s.paddingTop = 0; s.paddingBottom = 0; }
      }
    }
  },
  plugins: [rsiOverlay]
});
</script>
</body>
</html>
